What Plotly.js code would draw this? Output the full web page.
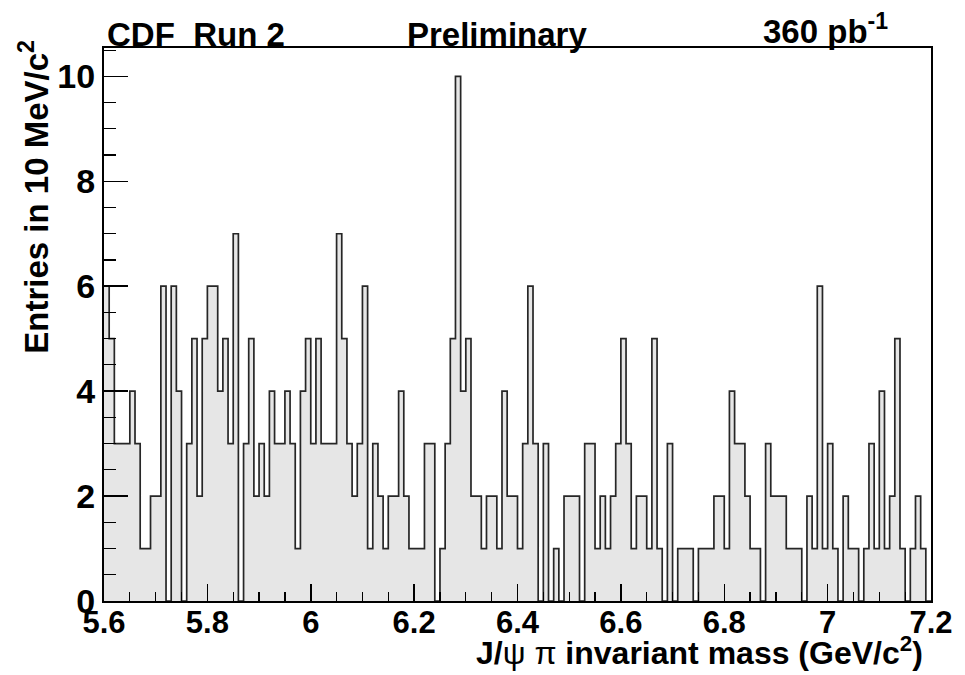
<!DOCTYPE html>
<html>
<head>
<meta charset="utf-8">
<script src="https://cdn.plot.ly/plotly-3.0.1.min.js"></script>
<style>html,body{margin:0;padding:0;background:#fff;}#chart{width:965px;height:675px;}</style>
</head>
<body>
<div id="chart"></div>
<script>
// Histogram: J/psi pi invariant mass, 10 MeV bins from 5.60 to 7.20 GeV/c^2
const binLow = 5.6;
const binWidth = 0.01;
const counts = [
  // 5.60 - 5.80
  6, 5, 3, 3, 3, 4, 3, 1, 1, 2, 2, 6, 0, 6, 4, 0, 3, 5, 2, 5,
  // 5.80 - 6.00
  6, 6, 4, 5, 3, 7, 0, 3, 5, 2, 3, 2, 4, 3, 3, 4, 3, 1, 4, 5,
  // 6.00 - 6.20
  3, 5, 3, 3, 3, 7, 5, 3, 2, 3, 6, 1, 3, 2, 1, 2, 2, 4, 2, 1,
  // 6.20 - 6.40
  1, 1, 3, 3, 0, 1, 3, 5, 10, 4, 5, 2, 2, 1, 2, 2, 1, 4, 2, 2,
  // 6.40 - 6.60
  1, 3, 6, 3, 0, 3, 0, 1, 0, 2, 2, 2, 0, 3, 3, 1, 2, 1, 2, 3,
  // 6.60 - 6.80
  5, 3, 1, 2, 2, 1, 5, 1, 0, 3, 0, 1, 1, 1, 0, 1, 1, 1, 2, 2,
  // 6.80 - 7.00
  1, 4, 3, 3, 2, 1, 1, 0, 3, 2, 2, 2, 1, 1, 1, 0, 2, 1, 6, 1,
  // 7.00 - 7.20
  3, 1, 0, 2, 1, 1, 0, 1, 3, 1, 4, 1, 2, 5, 1, 0, 1, 2, 1, 0
];
const xTickVals = [5.6, 5.8, 6.0, 6.2, 6.4, 6.6, 6.8, 7.0, 7.2];
const xTickText = ["5.6", "5.8", "6", "6.2", "6.4", "6.6", "6.8", "7", "7.2"];
const yTickVals = [0, 2, 4, 6, 8, 10];
const yTickText = ["0", "2", "4", "6", "8", "10"];

// Build step outline from bin low edges
const stepX = [];
const stepY = [];
for (let i = 0; i < counts.length; i++) {
  stepX.push(+(binLow + i * binWidth).toFixed(4));
  stepY.push(counts[i]);
}
stepX.push(+(binLow + counts.length * binWidth).toFixed(4));
stepY.push(counts[counts.length - 1]);

const FONT = "Liberation Sans, Arial, Helvetica, sans-serif";

const trace = {
  type: "scatter",
  mode: "lines",
  x: stepX,
  y: stepY,
  line: { shape: "hv", color: "#262626", width: 1.7 },
  fill: "tozeroy",
  fillcolor: "#e6e6e6",
  hoverinfo: "skip",
  showlegend: false
};

const layout = {
  width: 965,
  height: 675,
  margin: { l: 104, r: 34, t: 48, b: 74 },
  paper_bgcolor: "#ffffff",
  plot_bgcolor: "#ffffff",
  showlegend: false,
  xaxis: {
    range: [5.6, 7.2],
    tickmode: "array",
    tickvals: xTickVals,
    ticktext: xTickText,
    ticks: "inside",
    ticklen: 17,
    tickwidth: 1.5,
    tickcolor: "#000",
    ticklabelstandoff: -7,
    minor: { dtick: 0.05, tick0: 5.6, ticks: "inside", ticklen: 9, tickwidth: 1.2, tickcolor: "#000", showgrid: false },
    showline: true,
    mirror: true,
    linecolor: "#000",
    linewidth: 2,
    showgrid: false,
    zeroline: false,
    tickfont: { family: FONT, size: 31, color: "#000", weight: "bold" }
  },
  yaxis: {
    range: [0, 10.54],
    tickmode: "array",
    tickvals: yTickVals,
    ticktext: yTickText,
    ticks: "inside",
    ticklen: 24,
    tickwidth: 1.5,
    tickcolor: "#000",
    minor: { dtick: 0.5, tick0: 0, ticks: "inside", ticklen: 12, tickwidth: 1.2, tickcolor: "#000", showgrid: false },
    showline: true,
    mirror: true,
    linecolor: "#000",
    linewidth: 2,
    showgrid: false,
    zeroline: false,
    tickfont: { family: FONT, size: 34, color: "#000", weight: "bold" }
  },
  annotations: [
    {
      text: "CDF  Run 2", xref: "paper", yref: "paper",
      x: 0.001, y: 1.0253, xanchor: "left", yanchor: "middle", showarrow: false,
      font: { family: FONT, size: 33, color: "#000", weight: "bold" }
    },
    {
      text: "Preliminary", xref: "paper", yref: "paper",
      x: 0.3640, y: 1.0253, xanchor: "left", yanchor: "middle", showarrow: false,
      font: { family: FONT, size: 33, color: "#000", weight: "bold" }
    },
    {
      text: "360 pb<sup>-1</sup>", xref: "paper", yref: "paper",
      x: 0.7940, y: 1.0335, xanchor: "left", yanchor: "middle", showarrow: false,
      font: { family: FONT, size: 33, color: "#000", weight: "bold" }
    },
    {
      text: "J/<span style=\"font-weight:normal\">ψ</span> <span style=\"font-weight:normal\">π</span> invariant mass (GeV/c<sup>2</sup>)",
      xref: "paper", yref: "paper",
      x: 0.9927, y: -0.090, xanchor: "right", yanchor: "middle", showarrow: false,
      font: { family: FONT, size: 32, color: "#000", weight: "bold" }
    },
    {
      text: "Entries in 10 MeV/c<sup>2</sup>",
      xref: "paper", yref: "paper", textangle: -90,
      x: -0.085, y: 1.018, xanchor: "center", yanchor: "top", showarrow: false,
      font: { family: FONT, size: 33, color: "#000", weight: "bold" }
    }
  ]
};

Plotly.newPlot("chart", [trace], layout, { staticPlot: true, displayModeBar: false });
</script>
</body>
</html>
